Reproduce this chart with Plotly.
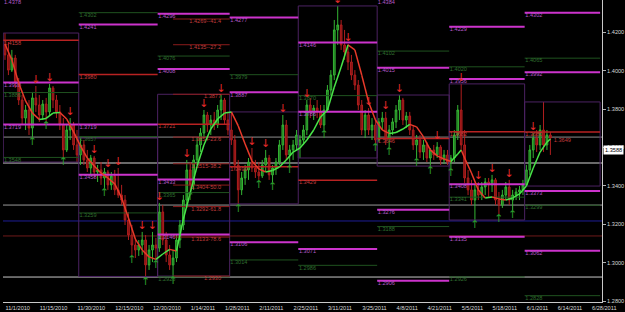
import plotly.graph_objects as go

# ---------------- data ----------------
TICK_BARS = [0, 10, 21, 32, 43, 54, 64, 74, 84, 94, 104, 114, 123, 133, 142, 152, 161, 171]
TICK_DATES = ["11/1/2010", "11/15/2010", "11/30/2010", "12/15/2010", "12/30/2010", "1/14/2011",
              "1/28/2011", "2/11/2011", "2/25/2011", "3/11/2011", "3/25/2011", "4/8/2011",
              "4/21/2011", "5/5/2011", "5/18/2011", "6/1/2011", "6/14/2011", "6/28/2011"]

OPEN = [1.4134, 1.4082, 1.4003, 1.4066, 1.3941, 1.3847, 1.3753, 1.3795, 1.3701, 1.3858,
        1.3821, 1.3769, 1.3826, 1.3785, 1.3910, 1.3847, 1.3785, 1.3717, 1.3587, 1.3691,
        1.3717, 1.3613,
        1.3561, 1.3613, 1.3535, 1.3493, 1.3545, 1.3472, 1.3483, 1.3441, 1.3472, 1.3405,
        1.3452, 1.3379, 1.3352, 1.3326, 1.3222, 1.3144, 1.3092, 1.3066, 1.3092, 1.3118,
        1.2988, 1.3066, 1.3092,
        1.3076, 1.3264, 1.3118, 1.3040, 1.2988, 1.3024, 1.3118, 1.3196, 1.3326, 1.3483,
        1.3405, 1.3535, 1.3613, 1.3675, 1.3769, 1.3717, 1.3743, 1.3717, 1.3795, 1.3847,
        1.3743,
        1.3691, 1.3639, 1.3509, 1.3379, 1.3441, 1.3483, 1.3524, 1.3493, 1.3472, 1.3452,
        1.3509, 1.3545, 1.3457, 1.3493, 1.3524, 1.3613, 1.3717, 1.3561, 1.3587, 1.3613,
        1.3613, 1.3639, 1.3691, 1.3821, 1.3785, 1.3805, 1.3785, 1.3717, 1.3795, 1.3899,
        1.3977, 1.4212, 1.4238, 1.4134, 1.4097, 1.4045, 1.3977, 1.3925, 1.3821, 1.3691,
        1.3769, 1.3691, 1.3717,
        1.3639, 1.3733, 1.3753, 1.3649, 1.3691, 1.3733, 1.3795, 1.3847, 1.3743, 1.3764,
        1.3691, 1.3613, 1.3639, 1.3576, 1.3613, 1.3545, 1.3587, 1.3561, 1.3602, 1.3535,
        1.3561,
        1.3524, 1.3545, 1.3665, 1.3795, 1.3613, 1.3441, 1.3379, 1.3326, 1.3379, 1.3352,
        1.3394, 1.3420, 1.3405, 1.3431, 1.3326, 1.3300, 1.3352, 1.3394, 1.3326, 1.3352,
        1.3368, 1.3379,
        1.3405, 1.3483, 1.3587, 1.3649, 1.3613, 1.3691, 1.3613, 1.3665]

HIGH = [1.4196, 1.4149, 1.4108, 1.4082, 1.3962, 1.3873, 1.3821, 1.3847, 1.3889, 1.3920,
        1.3873, 1.3847, 1.3858, 1.3931, 1.3920, 1.3873, 1.3821, 1.3753, 1.3717, 1.3753,
        1.3733, 1.3691,
        1.3649, 1.3639, 1.3587, 1.3561, 1.3556, 1.3509, 1.3524, 1.3493, 1.3483, 1.3472,
        1.3483, 1.3493, 1.3405, 1.3352, 1.3264, 1.3196, 1.3129, 1.3118, 1.3160, 1.3144,
        1.3092, 1.3160, 1.3129,
        1.3311, 1.3300, 1.3160, 1.3092, 1.3066, 1.3144, 1.3222, 1.3352, 1.3535, 1.3524,
        1.3561, 1.3649, 1.3701, 1.3795, 1.3785, 1.3769, 1.3785, 1.3821, 1.3877, 1.3858,
        1.3785,
        1.3785, 1.3665, 1.3535, 1.3472, 1.3509, 1.3545, 1.3597, 1.3535, 1.3524, 1.3535,
        1.3587, 1.3561, 1.3509, 1.3545, 1.3639, 1.3769, 1.3743, 1.3613, 1.3639, 1.3691,
        1.3665, 1.3717, 1.3847, 1.3858, 1.3821, 1.3847, 1.3821, 1.3821, 1.3925, 1.4003,
        1.4264, 1.4337, 1.4264, 1.4212, 1.4139, 1.4082, 1.4003, 1.3951, 1.3847, 1.3795,
        1.3805, 1.3753, 1.3743,
        1.3753, 1.3785, 1.3785, 1.3717, 1.3753, 1.3821, 1.3873, 1.3858, 1.3785, 1.3785,
        1.3717, 1.3665, 1.3665, 1.3639, 1.3628, 1.3597, 1.3613, 1.3628, 1.3613, 1.3587,
        1.3587,
        1.3561, 1.3691, 1.3821, 1.3931, 1.3691, 1.3483, 1.3431, 1.3405, 1.3420, 1.3420,
        1.3441, 1.3441, 1.3457, 1.3441, 1.3368, 1.3379, 1.3420, 1.3431, 1.3379, 1.3389,
        1.3399, 1.3431,
        1.3509, 1.3613, 1.3675, 1.3691, 1.3717, 1.3837, 1.3691, 1.3681]

LOW = [1.4056, 1.3977, 1.3993, 1.3910, 1.3821, 1.3717, 1.3691, 1.3665, 1.3655, 1.3785,
       1.3733, 1.3743, 1.3738, 1.3769, 1.3805, 1.3753, 1.3691, 1.3550, 1.3576, 1.3639,
       1.3587, 1.3524,
       1.3509, 1.3509, 1.3472, 1.3457, 1.3441, 1.3420, 1.3405, 1.3389, 1.3379, 1.3379,
       1.3352, 1.3337, 1.3300, 1.3196, 1.3118, 1.3040, 1.3024, 1.3035, 1.3040, 1.2928,
       1.2962, 1.3003, 1.3014,
       1.3056, 1.3092, 1.3003, 1.2962, 1.2930, 1.3003, 1.3076, 1.3170, 1.3285, 1.3368,
       1.3379, 1.3509, 1.3576, 1.3649, 1.3681, 1.3665, 1.3691, 1.3701, 1.3743, 1.3717,
       1.3665,
       1.3613, 1.3483, 1.3306, 1.3352, 1.3405, 1.3431, 1.3472, 1.3441, 1.3431, 1.3441,
       1.3472, 1.3431, 1.3420, 1.3457, 1.3509, 1.3587, 1.3535, 1.3509, 1.3535, 1.3587,
       1.3545, 1.3613, 1.3665, 1.3753, 1.3743, 1.3753, 1.3701, 1.3691, 1.3785, 1.3873,
       1.3951, 1.4134, 1.4108, 1.4056, 1.4003, 1.3951, 1.3899, 1.3795, 1.3665, 1.3649,
       1.3665, 1.3639, 1.3623,
       1.3628, 1.3691, 1.3613, 1.3602, 1.3665, 1.3701, 1.3743, 1.3717, 1.3701, 1.3665,
       1.3587, 1.3545, 1.3545, 1.3535, 1.3524, 1.3503, 1.3535, 1.3545, 1.3509, 1.3514,
       1.3509,
       1.3493, 1.3524, 1.3639, 1.3587, 1.3415, 1.3352, 1.3300, 1.3222, 1.3326, 1.3326,
       1.3352, 1.3337, 1.3368, 1.3300, 1.3253, 1.3285, 1.3326, 1.3300, 1.3274, 1.3326,
       1.3326, 1.3352,
       1.3399, 1.3457, 1.3545, 1.3576, 1.3587, 1.3576, 1.3587, 1.3561]

CLOSE = [1.4082, 1.4003, 1.4066, 1.3941, 1.3847, 1.3753, 1.3795, 1.3701, 1.3858, 1.3821,
         1.3769, 1.3826, 1.3785, 1.3910, 1.3847, 1.3785, 1.3717, 1.3587, 1.3691, 1.3717,
         1.3613, 1.3561,
         1.3613, 1.3535, 1.3493, 1.3545, 1.3472, 1.3483, 1.3441, 1.3472, 1.3405, 1.3452,
         1.3379, 1.3352, 1.3326, 1.3222, 1.3144, 1.3092, 1.3066, 1.3092, 1.3118, 1.2988,
         1.3066, 1.3092, 1.3076,
         1.3264, 1.3118, 1.3040, 1.2988, 1.3024, 1.3118, 1.3196, 1.3326, 1.3483, 1.3405,
         1.3535, 1.3613, 1.3675, 1.3769, 1.3717, 1.3743, 1.3717, 1.3795, 1.3847, 1.3743,
         1.3691,
         1.3639, 1.3509, 1.3379, 1.3441, 1.3483, 1.3524, 1.3493, 1.3472, 1.3452, 1.3509,
         1.3545, 1.3457, 1.3493, 1.3524, 1.3613, 1.3717, 1.3561, 1.3587, 1.3613, 1.3665,
         1.3639, 1.3691, 1.3821, 1.3785, 1.3805, 1.3785, 1.3717, 1.3795, 1.3899, 1.3977,
         1.4212, 1.4238, 1.4134, 1.4097, 1.4045, 1.3977, 1.3925, 1.3821, 1.3691, 1.3769,
         1.3691, 1.3717, 1.3639,
         1.3733, 1.3753, 1.3649, 1.3691, 1.3733, 1.3795, 1.3847, 1.3743, 1.3764, 1.3691,
         1.3613, 1.3639, 1.3576, 1.3613, 1.3545, 1.3587, 1.3561, 1.3602, 1.3535, 1.3561,
         1.3524,
         1.3545, 1.3665, 1.3795, 1.3613, 1.3441, 1.3379, 1.3326, 1.3379, 1.3352, 1.3394,
         1.3420, 1.3405, 1.3431, 1.3326, 1.3300, 1.3352, 1.3394, 1.3326, 1.3352, 1.3368,
         1.3379, 1.3405,
         1.3483, 1.3587, 1.3649, 1.3613, 1.3691, 1.3613, 1.3665, 1.3649]

MA_BAR = [0, 2, 4, 6, 8, 10, 12, 14, 16, 18, 20, 22, 24, 26, 28, 30, 32, 34, 36, 38, 40,
          42, 44, 46, 48, 50, 52, 54, 56, 58, 60, 62, 64, 66, 68, 70, 72, 74, 76, 78, 80,
          82, 84, 86, 88, 90, 92, 94, 96, 98, 100, 102, 104, 106, 108, 110, 112, 114, 116,
          118, 120, 122, 124, 126, 128, 130, 132, 133, 134, 136, 138, 140, 142, 144, 146,
          148, 150, 152, 154, 156, 158, 159]
MA_VAL = [1.4139, 1.4056, 1.3936, 1.3842, 1.3779, 1.3746, 1.3751, 1.3779, 1.3782, 1.3748,
          1.3681, 1.3608, 1.3545, 1.3503, 1.3467, 1.3441, 1.3410, 1.3337, 1.3233, 1.3123,
          1.3066, 1.3030, 1.3017, 1.3045, 1.3069, 1.3061, 1.3227, 1.3363, 1.3503, 1.3613,
          1.3696, 1.3748, 1.3779, 1.3785, 1.3712, 1.3618, 1.3530, 1.3488, 1.3472, 1.3480,
          1.3498, 1.3535, 1.3576, 1.3597, 1.3639, 1.3691, 1.3759, 1.3795, 1.3915, 1.4019,
          1.4134, 1.4108, 1.3977, 1.3837, 1.3743, 1.3691, 1.3673, 1.3678, 1.3696, 1.3720,
          1.3707, 1.3655, 1.3587, 1.3556, 1.3540, 1.3527, 1.3566, 1.3587, 1.3545, 1.3467,
          1.3379, 1.3337, 1.3342, 1.3332, 1.3326, 1.3337, 1.3358, 1.3399, 1.3493, 1.3576,
          1.3628, 1.3644]

DOWN_FRACTAL_BARS = [9, 13, 19, 26, 30, 33, 40, 43, 45, 53, 58, 63, 72, 76, 81, 88, 97,
                     100, 106, 111, 115, 126, 133, 138, 142, 147, 154]
UP_FRACTAL_BARS = [8, 12, 17, 29, 37, 41, 44, 49, 54, 68, 74, 78, 83, 93, 108, 112, 120,
                   124, 130, 137, 144, 148]

MONTH_FIRST_BAR = [0, 22, 45, 66, 86, 109, 130, 152]
AXIS_LAST_BAR = 173

MAGENTA_LEVELS = [[1.4378, 1.3938, 1.3719], [1.4241, 1.3719, 1.3458],
                  [1.4296, 1.4008, 1.3433, 1.3146], [1.4277, 1.3887, 1.3106],
                  [1.4146, 1.3786, 1.3071], [1.4384, 1.4015, 1.3276, 1.2906],
                  [1.4229, 1.3956, 1.3408, 1.3135], [1.4302, 1.3992, 1.3373, 1.3062]]
GREEN_LEVELS = [[1.3886, 1.3548], [1.4302, 1.3657, 1.3259], [1.4076, 1.3365, 1.2926],
                [1.3979, 1.3014], [1.3870, 1.2986], [1.4102, 1.3188],
                [1.4020, 1.3341, 1.2926], [1.4065, 1.3299, 1.2828]]
PIVOT_LEVELS = [1.4158, 1.3980, 1.3721, 1.3499, 1.3429, 1.3646, 1.3682, 1.3680]

FIB_RATIOS = [-41.4, -27.2, 0.0, 23.6, 38.2, 50.0, 61.8, 78.6, 100.0]
FIB_PRICES = [1.4269, 1.4135, 1.3877, 1.3654, 1.3515, 1.3404, 1.3292, 1.3133, 1.2930]
FIB_LOW_BAR = 49
FIB_HIGH_BAR = 63

FULL_LEVELS = [1.3654, 1.3519, 1.3300, 1.3217, 1.3139, 1.2925]
FULL_COLORS = ["#8e8e8e", "#d4d4d4", "#9a9a9a", "#1e1e96", "#6e1a1a", "#c8c8c8"]

LAST_PRICE = 1.3649
BID_PRICE = 1.3588
Y_TICKS = [1.28, 1.30, 1.32, 1.34, 1.36, 1.38, 1.40, 1.42]
Y_RANGE = [1.2795, 1.4368]

# ---------------- styles ----------------
MAG_LINE, MAG_TEXT = "#cc33cc", "#b45ac8"
GRN_LINE, GRN_TEXT = "#1f521f", "#2f6e2f"
RED_LINE, RED_TEXT = "#b82222", "#c23c3c"
BOX_COLOR = "#4c2262"
FONT = "Liberation Sans"
FS = 5.6

fig = go.Figure()


def month_span(m):
    x0 = MONTH_FIRST_BAR[m] - 0.5
    nxt = MONTH_FIRST_BAR[m + 1] if m + 1 < len(MONTH_FIRST_BAR) else AXIS_LAST_BAR + 1
    return x0, nxt - 0.5


# month range boxes
bx, by = [], []
for m in range(len(MONTH_FIRST_BAR)):
    a = MONTH_FIRST_BAR[m]
    b = MONTH_FIRST_BAR[m + 1] if m + 1 < len(MONTH_FIRST_BAR) else len(HIGH)
    hi, lo = max(HIGH[a:b]), min(LOW[a:b])
    x0, x1 = month_span(m)
    bx += [x0, x1, x1, x0, x0, None]
    by += [hi, hi, lo, lo, hi, None]
fig.add_trace(go.Scatter(x=bx, y=by, mode="lines", line=dict(color=BOX_COLOR, width=1),
                         hoverinfo="skip", showlegend=False))


def level_traces(levels_by_month, lcolor, tcolor, width):
    xs, ys, lx, ly, lt = [], [], [], [], []
    for m, lv in enumerate(levels_by_month):
        x0, x1 = month_span(m)
        for v in lv:
            xs += [x0, x1, None]
            ys += [v, v, None]
            lx.append(x0 + 0.2)
            ly.append(min(v, Y_RANGE[1]))   # levels above the view: label pinned to top
            lt.append(f"{v:.4f}")
    fig.add_trace(go.Scatter(x=xs, y=ys, mode="lines", line=dict(color=lcolor, width=width),
                             hoverinfo="skip", showlegend=False))
    fig.add_trace(go.Scatter(x=lx, y=ly, mode="text", text=lt, textposition="bottom right",
                             textfont=dict(family=FONT, size=FS, color=tcolor),
                             cliponaxis=False, hoverinfo="skip", showlegend=False))


level_traces(GREEN_LEVELS, GRN_LINE, GRN_TEXT, 1)
level_traces([[p] for p in PIVOT_LEVELS], RED_LINE, RED_TEXT, 1.5)
level_traces(MAGENTA_LEVELS, MAG_LINE, MAG_TEXT, 2)

# Fibonacci levels of January
fx, fy, ft = [], [], []
jan_end = month_span(2)[1]
for r, p in zip(FIB_RATIOS, FIB_PRICES):
    fx += [FIB_LOW_BAR, jan_end, None]
    fy += [p, p, None]
    ft.append(f"{p:.4f}" if r in (0.0, 100.0) else f"{p:.4f}-{r:.1f}")
fig.add_trace(go.Scatter(x=fx, y=fy, mode="lines", line=dict(color="#8c1c1c", width=1),
                         hoverinfo="skip", showlegend=False))
fig.add_trace(go.Scatter(x=[FIB_HIGH_BAR] * len(FIB_PRICES), y=FIB_PRICES, mode="text",
                         text=ft, textposition="bottom left",
                         textfont=dict(family=FONT, size=FS, color=RED_TEXT),
                         hoverinfo="skip", showlegend=False))

# candles
bars = list(range(len(CLOSE)))
fig.add_trace(go.Candlestick(
    x=bars, open=OPEN, high=HIGH, low=LOW, close=CLOSE, whiskerwidth=0,
    increasing=dict(line=dict(color="#34b534", width=1), fillcolor="#1e6e1e"),
    decreasing=dict(line=dict(color="#b01e1e", width=1), fillcolor="#7e1212"),
    hoverinfo="skip", showlegend=False))

# smoothed average coloured by slope
rx, ry, gx, gy = [], [], [], []
for k in range(len(MA_BAR) - 1):
    tx, ty = (gx, gy) if MA_VAL[k + 1] >= MA_VAL[k] else (rx, ry)
    tx += [MA_BAR[k], MA_BAR[k + 1], None]
    ty += [MA_VAL[k], MA_VAL[k + 1], None]
fig.add_trace(go.Scatter(x=rx, y=ry, mode="lines", line=dict(color="#e83a2a", width=1.5),
                         hoverinfo="skip", showlegend=False))
fig.add_trace(go.Scatter(x=gx, y=gy, mode="lines", line=dict(color="#48e448", width=1.5),
                         hoverinfo="skip", showlegend=False))

# fractal arrows
fig.add_trace(go.Scatter(x=DOWN_FRACTAL_BARS, y=[HIGH[i] for i in DOWN_FRACTAL_BARS],
                         mode="text", text=["↓"] * len(DOWN_FRACTAL_BARS),
                         textposition="top center",
                         textfont=dict(family="DejaVu Sans", size=11, color="#e42a2a"),
                         cliponaxis=False, hoverinfo="skip", showlegend=False))
fig.add_trace(go.Scatter(x=UP_FRACTAL_BARS, y=[LOW[i] for i in UP_FRACTAL_BARS],
                         mode="text", text=["↑"] * len(UP_FRACTAL_BARS),
                         textposition="bottom center",
                         textfont=dict(family="DejaVu Sans", size=11, color="#2c9a2c"),
                         cliponaxis=False, hoverinfo="skip", showlegend=False))

# last price label
fig.add_trace(go.Scatter(x=[len(CLOSE)], y=[LAST_PRICE], mode="text",
                         text=[f"{LAST_PRICE:.4f}"], textposition="bottom right",
                         textfont=dict(family=FONT, size=FS, color=RED_TEXT),
                         hoverinfo="skip", showlegend=False))

shapes = [dict(type="line", xref="paper", x0=0, x1=1, yref="y", y0=v, y1=v,
               line=dict(color=c, width=1), layer="below")
          for v, c in zip(FULL_LEVELS, FULL_COLORS)]

fig.update_layout(
    width=625, height=312, margin=dict(l=3, r=23, t=0, b=10),
    paper_bgcolor="black", plot_bgcolor="black", template="none",
    showlegend=False, shapes=shapes,
    xaxis=dict(range=[-0.58, 174.05], tickvals=TICK_BARS, ticktext=TICK_DATES,
               tickangle=0, ticklabelposition="outside right", ticks="", showgrid=False,
               zeroline=False, showline=True, linecolor="#c8c8c8", linewidth=1,
               tickfont=dict(family=FONT, size=FS, color="#d8d8d8"),
               rangeslider=dict(visible=False), automargin=False),
    yaxis=dict(range=Y_RANGE, side="right", tickvals=Y_TICKS,
               ticktext=[f"{v:.4f}" for v in Y_TICKS], ticks="outside", ticklen=3,
               tickcolor="#b0b0b0", showgrid=False, zeroline=False, showline=True,
               linecolor="#c8c8c8", linewidth=1,
               tickfont=dict(family=FONT, size=FS, color="#d8d8d8"), automargin=False),
    annotations=[dict(xref="paper", x=1.0, xanchor="left", xshift=1, y=BID_PRICE,
                      yref="y", text=f"{BID_PRICE:.4f}", showarrow=False,
                      bgcolor="white", font=dict(family=FONT, size=FS, color="black"),
                      borderpad=1)],
)

fig.write_html("out.html")
